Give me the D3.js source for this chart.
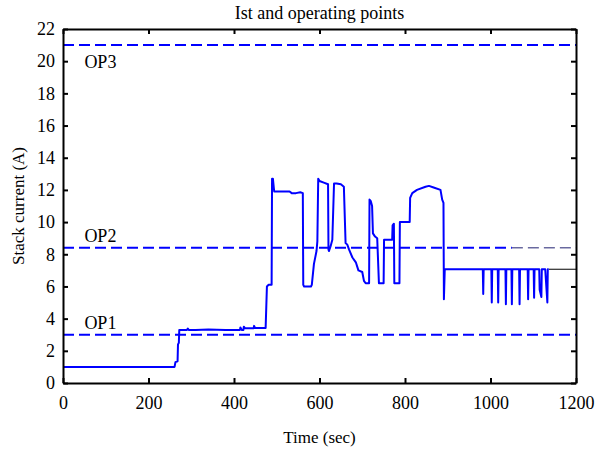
<html>
<head>
<script src="https://d3js.org/d3.v7.min.js"></script>
<style>
  body { margin: 0; background: #fff; }
</style>
</head>
<body>
<div id="wrapper"></div>
<script>
// stack current trace (time in sec, current in A)
var timeSec = [0, 261, 263, 268, 269, 271, 272, 290, 292, 294, 310, 340, 380, 414, 415, 418, 422, 423, 426, 446, 447, 449, 474,
  477, 481, 488, 489, 491, 494, 530, 535, 545, 555, 561, 562, 564, 580, 582, 587, 593, 595, 597, 600, 610, 620, 621, 622, 626, 630,
  634, 640, 650, 657, 661, 665, 669, 677, 685, 691, 700, 704, 708, 716, 717, 720, 723, 725, 730, 735, 739, 750, 751, 770, 771, 774,
  775, 787, 788, 811, 812, 817, 828, 848, 856, 867, 883, 887, 890, 891, 893,
  982, 983, 984, 1002, 1003, 1004, 1017, 1018, 1019, 1035, 1036, 1037, 1049, 1050, 1051, 1067, 1068, 1069, 1087, 1088, 1089,
  1101, 1102, 1103, 1114, 1115, 1119, 1120, 1128, 1133, 1134, 1136];
var current = [1.0, 1.0, 1.3, 1.35, 2.4, 2.5, 3.3, 3.3, 3.38, 3.3, 3.3, 3.32, 3.3, 3.3, 3.45, 3.3, 3.3, 3.5, 3.4, 3.4, 3.55, 3.42, 3.42,
  6.0, 6.1, 6.1, 12.7, 12.7, 11.9, 11.9, 11.8, 11.8, 11.85, 11.8, 6.1, 6.0, 6.0, 6.1, 7.4, 8.2, 8.8, 12.7, 12.55, 12.45, 12.35, 8.3, 8.2, 8.5,
  8.9, 12.4, 12.4, 12.35, 12.2, 8.7, 8.6, 8.3, 7.8, 7.5, 7.0, 6.9, 6.35, 6.2, 6.2, 11.4, 11.3, 11.0, 9.3, 9.1, 9.0, 6.2, 6.2, 8.9, 8.9, 9.8,
  9.9, 6.2, 6.2, 10.0, 10.0, 11.5, 11.8, 12.0, 12.2, 12.25, 12.15, 12.0, 11.4, 11.2, 5.2, 7.07,
  7.07, 5.53, 7.07, 7.07, 5.0, 7.07, 7.07, 5.0, 7.07, 7.07, 4.9, 7.07, 7.07, 4.9, 7.07, 7.07, 4.9, 7.07, 7.07, 5.2, 7.07,
  7.07, 5.3, 7.07, 7.07, 5.8, 5.35, 7.07, 7.07, 5.0, 7.07, 7.07];

// thin dark continuation of the trace at the right edge
var refTime = [1136, 1200];
var refCurrent = [7.07, 7.07];

// operating points
var opNames = ["OP1", "OP2", "OP3"];
var opLevels = [3, 8.4, 21];
var opFadeStart = [1200, 1050, 1200]; // where the dashed line turns thin

var xTicks = [0, 200, 400, 600, 800, 1000, 1200];
var yTicks = [0, 2, 4, 6, 8, 10, 12, 14, 16, 18, 20, 22];

var serif = "'Liberation Serif'";

var width = 598, height = 460;
var margin = {left: 63, top: 29, right: 22, bottom: 77};
var plotW = width - margin.left - margin.right;
var plotH = height - margin.top - margin.bottom;

var svg = d3.select("#wrapper").append("svg")
  .attr("width", width).attr("height", height);

var x = d3.scaleLinear().domain([0, 1200]).range([0, plotW]);
var y = d3.scaleLinear().domain([0, 22]).range([plotH, 0]);

var g = svg.append("g").attr("transform", "translate(" + margin.left + "," + margin.top + ")");

// OP dashed lines
opLevels.forEach(function(lv, i) {
  g.append("line")
    .attr("x1", x(0)).attr("x2", x(opFadeStart[i]))
    .attr("y1", y(lv)).attr("y2", y(lv))
    .attr("stroke", "#0000ff").attr("stroke-width", 2)
    .attr("stroke-dasharray", "11,5");
  if (opFadeStart[i] < 1200) {
    g.append("line")
      .attr("x1", x(opFadeStart[i])).attr("x2", x(1200))
      .attr("y1", y(lv)).attr("y2", y(lv))
      .attr("stroke", "#202070").attr("stroke-width", 1)
      .attr("stroke-dasharray", "11,5");
  }
});

// OP labels (OP3 sits under its line)
opNames.forEach(function(name, i) {
  g.append("text")
    .attr("x", x(50))
    .attr("y", y(opLevels[i]))
    .attr("dy", i == 2 ? 23 : -6)
    .style("font-family", serif)
    .style("font-size", "18px")
    .text(name);
});

var line = d3.line()
  .x(function(d) { return x(d[0]); })
  .y(function(d) { return y(d[1]); });

g.append("path")
  .datum(refTime.map(function(t, i) { return [t, refCurrent[i]]; }))
  .attr("d", line)
  .attr("fill", "none").attr("stroke", "#000").attr("stroke-width", 1);

g.append("path")
  .datum(timeSec.map(function(t, i) { return [t, current[i]]; }))
  .attr("d", line)
  .attr("fill", "none").attr("stroke", "#0000ff").attr("stroke-width", 2)
  .attr("stroke-linejoin", "round");

// axes, ticks pointing inwards on all four sides
var xAxis = g.append("g").attr("transform", "translate(0," + plotH + ")")
  .call(d3.axisBottom(x).tickValues(xTicks).tickFormat(d3.format("d")).tickSizeInner(-5).tickSizeOuter(0));
xAxis.attr("font-family", null);
xAxis.selectAll("text").attr("y", 13)
  .style("font-family", serif).style("font-size", "18px").style("fill", "#000");

var yAxis = g.append("g")
  .call(d3.axisLeft(y).tickValues(yTicks).tickFormat(d3.format("d")).tickSizeInner(-5).tickSizeOuter(0));
yAxis.attr("font-family", null);
yAxis.selectAll("text").attr("x", -8)
  .style("font-family", serif).style("font-size", "18px").style("fill", "#000");

g.append("g")
  .call(d3.axisTop(x).tickValues(xTicks).tickSizeInner(-5).tickSizeOuter(0).tickFormat(""));
g.append("g").attr("transform", "translate(" + plotW + ",0)")
  .call(d3.axisRight(y).tickValues(yTicks).tickSizeInner(-5).tickSizeOuter(0).tickFormat(""));

g.selectAll(".domain").attr("stroke", "#000").attr("stroke-width", 2);
g.selectAll(".tick line").attr("stroke", "#000").attr("stroke-width", 2);

// titles
svg.append("text")
  .attr("x", margin.left + plotW / 2).attr("y", 19)
  .attr("text-anchor", "middle")
  .style("font-family", serif).style("font-size", "18px")
  .text("Ist and operating points");

svg.append("text")
  .attr("x", margin.left + plotW / 2).attr("y", 443)
  .attr("text-anchor", "middle")
  .style("font-family", serif).style("font-size", "17px")
  .text("Time (sec)");

svg.append("text")
  .attr("transform", "translate(24," + (margin.top + plotH / 2) + ") rotate(-90)")
  .attr("text-anchor", "middle")
  .style("font-family", serif).style("font-size", "17px")
  .text("Stack current (A)");
</script>
</body>
</html>
